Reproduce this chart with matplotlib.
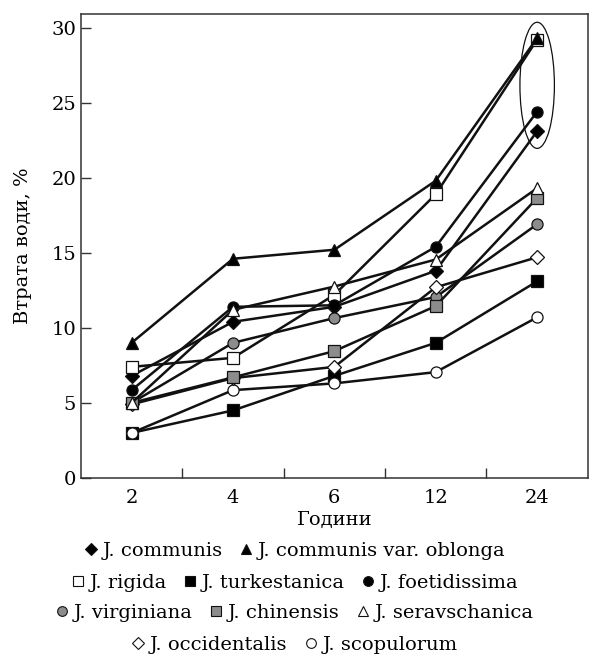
import matplotlib
matplotlib.use('agg')
import matplotlib.pyplot as plt
from matplotlib.patches import Ellipse
from matplotlib.lines import Line2D

plt.rcParams['font.family'] = ['DejaVu Serif']

hours = ['2', '4', '6', '12', '24']

communis = [6.8, 10.4, 11.4, 13.8, 23.1]
oblonga = [9.0, 14.6, 15.2, 19.8, 29.3]
rigida = [7.4, 8.0, 12.2, 18.9, 29.2]
turkestanica = [3.0, 4.5, 6.8, 9.0, 13.1]
foetidissima = [5.85, 11.4, 11.5, 15.4, 24.4]
virginiana = [5.0, 9.0, 10.65, 12.05, 16.9]
chinensis = [5.0, 6.7, 8.45, 11.45, 18.65]
seravschanica = [5.0, 11.2, 12.75, 14.55, 19.3]
occidentalis = [4.9, 6.65, 7.4, 12.7, 14.7]
scopulorum = [3.0, 5.85, 6.3, 7.05, 10.7]

names = ['J. communis', 'J. communis var. oblonga', 'J. rigida', 'J. turkestanica',
         'J. foetidissima', 'J. virginiana', 'J. chinensis', 'J. seravschanica',
         'J. occidentalis', 'J. scopulorum']
values = [communis, oblonga, rigida, turkestanica, foetidissima, virginiana,
          chinensis, seravschanica, occidentalis, scopulorum]

gray = '#8c8c8c'
style = {
    'J. communis': ('D', 'black', 3),
    'J. communis var. oblonga': ('^', 'black', 5),
    'J. rigida': ('s', 'white', 4),
    'J. turkestanica': ('s', 'black', 6),
    'J. foetidissima': ('o', 'black', 8),
    'J. virginiana': ('o', gray, 9),
    'J. chinensis': ('s', gray, 11),
    'J. seravschanica': ('^', 'white', 12),
    'J. occidentalis': ('D', 'white', 10),
    'J. scopulorum': ('o', 'white', 7),
}

fig = plt.figure(figsize=(5.95, 6.58), dpi=100)
ax = fig.add_axes([0.136, 0.2736, 0.852, 0.7051])

x = range(len(hours))
handles = []
for name, vals in zip(names, values):
    m, fc, z = style[name]
    ms = 7 if m == 'D' else 8
    ax.plot(x, vals, '-', color='#111111', lw=1.8, marker=m, ms=ms,
            mfc=fc, mec='#111111', mew=0.9, zorder=z)
    handles.append(Line2D([], [], ls='none', marker=m, ms=7 if m != 'D' else 6,
                          mfc=fc, mec='#111111', mew=0.8))

# ellipse marking the 24 h group
ax.add_patch(Ellipse((4, 26.15), 0.34, 8.4, fill=False, ec='#111111', lw=0.9, zorder=20))

ax.set_xlim(-0.5, 4.5)
ax.set_ylim(0, 30.9)
ax.set_xticks(list(x))
ax.set_xticklabels(hours)
ax.set_xticks([0.5, 1.5, 2.5, 3.5], minor=True)
ax.set_yticks([0, 5, 10, 15, 20, 25, 30])
ax.tick_params(axis='x', which='major', length=0, labelsize=14, pad=8)
ax.tick_params(axis='x', which='minor', direction='in', length=7, width=1, color='#333333')
ax.tick_params(axis='y', direction='in', length=7, width=1, labelsize=14, color='#333333')
for s in ax.spines.values():
    s.set_color('#333333')
    s.set_linewidth(1.1)

ax.set_xlabel('Години', fontsize=14, labelpad=3)
ax.set_ylabel('Втрата води, %', fontsize=14, labelpad=14)

rows = [[0, 1], [2, 3, 4], [5, 6, 7], [8, 9]]
row_y = [0.1626, 0.1140, 0.0684, 0.0198]
for idx, yy in zip(rows, row_y):
    fig.legend([handles[i] for i in idx], [names[i] for i in idx],
               loc='center', bbox_to_anchor=(0.496, yy), ncol=len(idx),
               frameon=False, fontsize=14, handlelength=0.6, handletextpad=0.3,
               columnspacing=0.9, borderpad=0, borderaxespad=0)

fig.savefig('out.png', dpi=100)
